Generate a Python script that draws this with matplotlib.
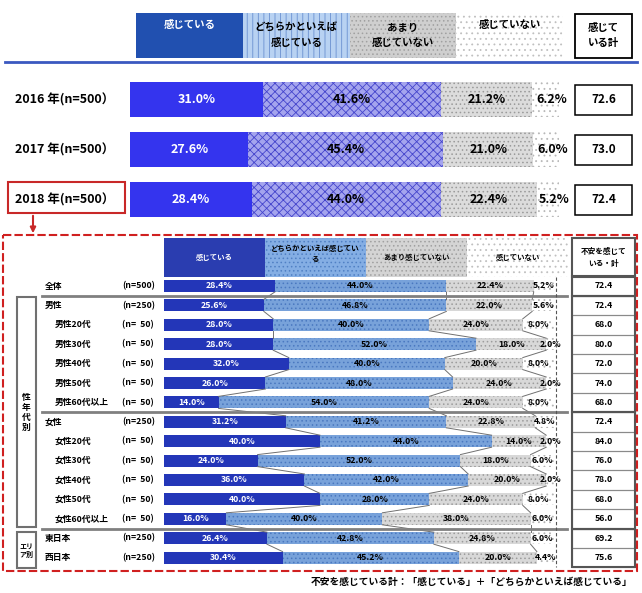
import matplotlib.pyplot as plt
from matplotlib.patches import Rectangle
import numpy as np

plt.rcParams['font.family'] = ['Noto Sans CJK JP', 'DejaVu Sans']
plt.rcParams['hatch.linewidth'] = 0.6

# ---- data: year comparison ----
years = ["2016 年(n=500）", "2017 年(n=500）", "2018 年(n=500）"]
year_feel = [31.0, 27.6, 28.4]
year_some = [41.6, 45.4, 44.0]
year_little = [21.2, 21.0, 22.4]
year_none = [6.2, 6.0, 5.2]
year_total = [72.6, 73.0, 72.4]
top_heads = ["感じている", "どちらかといえば\n感じている", "あまり\n感じていない", "感じていない"]

# ---- data: 2018 breakdown ----
groups = ["全体", "男性", "男性20代", "男性30代", "男性40代", "男性50代", "男性60代以上",
          "女性", "女性20代", "女性30代", "女性40代", "女性50代", "女性60代以上",
          "東日本", "西日本"]
group_n = ["(n=500)", "(n=250)", "(n=  50)", "(n=  50)", "(n=  50)", "(n=  50)", "(n=  50)",
           "(n=250)", "(n=  50)", "(n=  50)", "(n=  50)", "(n=  50)", "(n=  50)",
           "(n=250)", "(n=250)"]
sub_rows = [2, 3, 4, 5, 6, 8, 9, 10, 11, 12]
grp_feel = [28.4, 25.6, 28.0, 28.0, 32.0, 26.0, 14.0, 31.2, 40.0, 24.0, 36.0, 40.0, 16.0, 26.4, 30.4]
grp_some = [44.0, 46.8, 40.0, 52.0, 40.0, 48.0, 54.0, 41.2, 44.0, 52.0, 42.0, 28.0, 40.0, 42.8, 45.2]
grp_little = [22.4, 22.0, 24.0, 18.0, 20.0, 24.0, 24.0, 22.8, 14.0, 18.0, 20.0, 24.0, 38.0, 24.8, 20.0]
grp_none = [5.2, 5.6, 8.0, 2.0, 8.0, 2.0, 8.0, 4.8, 2.0, 6.0, 2.0, 8.0, 6.0, 6.0, 4.4]
grp_total = [72.4, 72.4, 68.0, 80.0, 72.0, 74.0, 68.0, 72.4, 84.0, 76.0, 78.0, 68.0, 56.0, 69.2, 75.6]
low_heads = ["感じている", "どちらかといえば感じてい\nる", "あまり感じていない", "感じていない"]

W, H = 642, 593
fig = plt.figure(figsize=(W / 100, H / 100), dpi=100)

# top axes: 0% at x=130px, 1% = 4.29px ; row 0 at y=99.5px, pitch 50px
tx0, ts, ty0, tp = 130, 4.29, 99.5, 50
ax1 = fig.add_axes([0, 0, 1, 1])
ax1.set_xlim(-tx0 / ts, (W - tx0) / ts)
ax1.set_ylim((H - ty0) / tp, -ty0 / tp)
ax1.axis("off")

top_styles = [
    dict(color="#3434ee", hatch=None, edgecolor="#3434ee"),
    dict(color="#a4a4ee", hatch="xxxx", edgecolor="#4444cc"),
    dict(color="#dcdcdc", hatch="....", edgecolor="#9a9a9a"),
    dict(color="#ffffff", hatch="...", edgecolor="#b8b8b8"),
]
rows = np.arange(len(years))
segs = [year_feel, year_some, year_little, year_none]
left = np.zeros(len(years))
for k, vals in enumerate(segs):
    st = top_styles[k]
    ax1.barh(rows, vals, left=left, height=0.7, color=st["color"], hatch=st["hatch"],
             edgecolor=st["edgecolor"], linewidth=0)
    for r, v, l in zip(rows, vals, left):
        ax1.text(l + v / 2 + (1.5 if k == 3 else 0), r, f"{v:.1f}%", ha="center", va="center",
                 fontsize=9, fontweight="bold", color="white" if k == 0 else "black")
    left = left + np.array(vals)

# header legend
head_colors = [
    dict(color="#2150b0", hatch=None, edgecolor="#2150b0"),
    dict(color="#b8d2f2", hatch="|||", edgecolor="#6a90d0"),
    dict(color="#cfcfcf", hatch="....", edgecolor="#a0a0a0"),
    dict(color="#ffffff", hatch="...", edgecolor="#c0c0c0"),
]
hy = (35.5 - ty0) / tp
hw = 24.9
for k, lab in enumerate(top_heads):
    st = head_colors[k]
    ax1.barh(hy, hw, left=1.4 + k * hw, height=0.9, color=st["color"], hatch=st["hatch"],
             edgecolor=st["edgecolor"], linewidth=0)
    ty = hy if "\n" in lab else (25 - ty0) / tp
    ax1.text(1.4 + k * hw + hw / 2, ty, lab, ha="center", va="center", fontsize=7.5,
             fontweight="bold", color="white" if k == 0 else "black", linespacing=1.7)
ax1.add_patch(Rectangle((103.7, hy - 0.44), 13.3, 0.88, fill=False, edgecolor="black", lw=1.3))
ax1.text(110.35, hy, "感じて\nいる計", ha="center", va="center", fontsize=7.5,
         fontweight="bold", linespacing=1.6)
ax1.plot([(5 - tx0) / ts, (637 - tx0) / ts], [(62 - ty0) / tp] * 2, color="#3a58c0", lw=2)

for r, lab, tot in zip(rows, years, year_total):
    ax1.text((15 - tx0) / ts, r, lab, ha="left", va="center", fontsize=9, fontweight="bold")
    ax1.add_patch(Rectangle((103.7, r - 0.3), 13.3, 0.6, fill=False, edgecolor="black", lw=1.1))
    ax1.text(110.35, r, f"{tot:.1f}", ha="center", va="center", fontsize=8.5, fontweight="bold")

# red box around 2018 and arrow
ax1.add_patch(Rectangle(((8 - tx0) / ts, (182 - ty0) / tp), 117 / ts, 31 / tp, fill=False,
                        edgecolor="#c82828", lw=1.5))
ax1.annotate("", xy=((33 - tx0) / ts, (236 - ty0) / tp), xytext=((33 - tx0) / ts, (213 - ty0) / tp),
             arrowprops=dict(arrowstyle="-|>", color="#c82828", lw=1.5, mutation_scale=8))

# lower axes: 0% at x=164px, 1% = 3.9px ; row 0 at y=286px, pitch 19.4px
bx0, bs, by0, bp = 164, 3.9, 286, 19.4
ax2 = fig.add_axes([0, 0, 1, 1])
ax2.patch.set_alpha(0)
ax2.set_xlim(-bx0 / bs, (W - bx0) / bs)
ax2.set_ylim((H - by0) / bp, -by0 / bp)
ax2.axis("off")

low_styles = [
    dict(color="#2336b8", hatch=None, edgecolor="#2336b8"),
    dict(color="#78a2da", hatch="....", edgecolor="#4a78c0"),
    dict(color="#d8d8d8", hatch="....", edgecolor="#9c9c9c"),
    dict(color="#ffffff", hatch="...", edgecolor="#b4b4b4"),
]
brow = np.arange(len(groups))
bh = 0.62
lsegs = [grp_feel, grp_some, grp_little, grp_none]
left = np.zeros(len(groups))
bounds = []
for k, vals in enumerate(lsegs):
    st = low_styles[k]
    ax2.barh(brow, vals, left=left, height=bh, color=st["color"], hatch=st["hatch"],
             edgecolor=st["edgecolor"], linewidth=0)
    for r, v, l in zip(brow, vals, left):
        ax2.text(l + v / 2, r, f"{v:.1f}%", ha="center", va="center", fontsize=6.3,
                 fontweight="bold", color="white" if k == 0 else "black")
    left = left + np.array(vals)
    if k < 3:
        bounds.append(left.copy())

# series lines between rows
for b in bounds:
    for i in range(len(groups) - 1):
        ax2.plot([b[i], b[i + 1]], [i + bh / 2, i + 1 - bh / 2], color="#707070", lw=0.7)

# header legend
lhy = (257.5 - by0) / bp
lhw = 25.9
low_head_styles = [
    dict(color="#2a3db0", hatch=None, edgecolor="#2a3db0"),
    dict(color="#84aee4", hatch="....", edgecolor="#5080c4"),
    dict(color="#d4d4d4", hatch="....", edgecolor="#a0a0a0"),
    dict(color="#ffffff", hatch="...", edgecolor="#c0c0c0"),
]
for k, lab in enumerate(low_heads):
    st = low_head_styles[k]
    ax2.barh(lhy, lhw, left=k * lhw, height=2.0, color=st["color"], hatch=st["hatch"],
             edgecolor=st["edgecolor"], linewidth=0)
    ax2.text(k * lhw + lhw / 2, lhy - (0.2 if "\n" in lab else 0), lab, ha="center", va="center",
             fontsize=5.3, fontweight="bold", color="white" if k == 0 else "black", linespacing=1.6)

# total column
tcx, tcw = 104.6, 16.2
ax2.add_patch(Rectangle((tcx, lhy - 1.0), tcw, 2.0, fill=False, edgecolor="#555555", lw=1.5))
ax2.text(tcx + tcw / 2, lhy, "不安を感じて\nいる・計", ha="center", va="center", fontsize=5.5,
         fontweight="bold", linespacing=1.5)
for r, tot in zip(brow, grp_total):
    ax2.add_patch(Rectangle((tcx, r - 0.5), tcw, 1.0, fill=False, edgecolor="#8a8a8a", lw=0.8))
    ax2.text(tcx + tcw / 2, r, f"{tot:.1f}", ha="center", va="center", fontsize=6.3,
             fontweight="bold")
for top_r, bot_r in [(0, 0), (1, 6), (7, 12), (13, 14)]:
    ax2.add_patch(Rectangle((tcx, top_r - 0.5), tcw, bot_r - top_r + 1, fill=False,
                            edgecolor="#555555", lw=1.5))

# group separators
for y in [0.5, 6.5, 12.5]:
    ax2.plot([(42 - bx0) / bs, 103.3], [y, y], color="#808080", lw=2)
ax2.plot([100.5, 100.5], [-0.46, 14.5], color="#555555", lw=0.8, ls=(0, (3, 2)))

# row labels
for r, lab, n in zip(brow, groups, group_n):
    xl = (55 - bx0) / bs if r in sub_rows else (45 - bx0) / bs
    ax2.text(xl, r, lab, ha="left", va="center", fontsize=6.3, fontweight="bold")
    ax2.text((122 - bx0) / bs, r, n, ha="left", va="center", fontsize=6.3, fontweight="bold")

# left brackets
bxl, bxw = (17 - bx0) / bs, 19 / bs
ax2.add_patch(Rectangle((bxl, 0.57), bxw, 11.85, fill=False, edgecolor="#707070", lw=1.5))
ax2.text(bxl + bxw / 2, 6.5, "性\n年\n代\n別", ha="center", va="center", fontsize=6.3,
         fontweight="bold", linespacing=1.15)
ax2.add_patch(Rectangle((bxl, 12.68), bxw, 1.86, fill=False, edgecolor="#707070", lw=1.5))
ax2.text(bxl + bxw / 2, 13.61, "エリ\nア別", ha="center", va="center", fontsize=5,
         fontweight="bold", linespacing=1.2)

# dashed red frame
ax2.add_patch(Rectangle(((3 - bx0) / bs, (235 - by0) / bp), 634 / bs, 336 / bp, fill=False,
                        edgecolor="#d02020", lw=1.5, ls=(0, (4, 1.5)), clip_on=False))

ax2.text((632 - bx0) / bs, (582 - by0) / bp,
         "不安を感じている計：「感じている」＋「どちらかといえば感じている」",
         ha="right", va="center", fontsize=7, fontweight="bold")

fig.savefig("out.png", dpi=100)
